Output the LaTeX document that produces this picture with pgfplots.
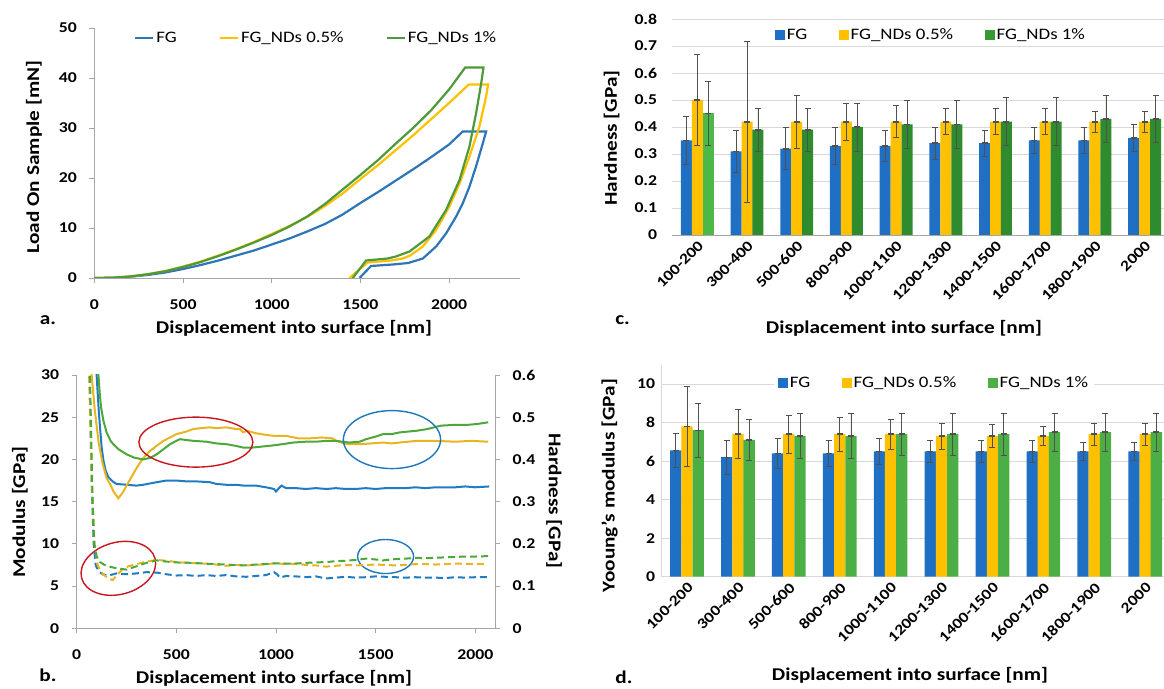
\documentclass[border=0pt]{standalone}
\usepackage{fontspec}
\setmainfont{Carlito}[FakeStretch=1.18]
\usepackage{pgfplots}
\pgfplotsset{compat=1.18}
\usetikzlibrary{arrows.meta}
\definecolor{cblue}{HTML}{1F6FC5}
\definecolor{cyel}{HTML}{FFC000}
\definecolor{cgrn}{HTML}{2E8B2E}
\definecolor{cgrnl}{HTML}{4CB848}
\definecolor{dgrn}{HTML}{4CAF45}
\definecolor{lblue}{HTML}{2E75B6}
\definecolor{lyel}{HTML}{FFC000}
\definecolor{lgrn}{HTML}{4E9A3A}
\definecolor{bblue}{HTML}{1F7BC2}
\definecolor{byel}{HTML}{E8B422}
\definecolor{bgrn}{HTML}{4DA83A}
\definecolor{axgray}{HTML}{A6A6A6}
\definecolor{gridc}{HTML}{D9D9D9}
\definecolor{ebar}{HTML}{505050}
\definecolor{ered}{HTML}{C8161D}
\definecolor{eblue}{HTML}{1F77B8}
\newcommand\tkf{\bfseries\fontsize{15}{15}\selectfont}
\newcommand\lbf{\bfseries\fontsize{18}{18}\selectfont}
\newcommand\lgf{\fontsize{16}{16}\selectfont}
\pgfplotsset{
  base/.style={scale only axis, anchor=south west,
    /pgf/number format/assume math mode=true,
    /pgf/number format/set thousands separator={},
    tick label style={font=\tkf, text=black},
    axis line style={axgray, line width=0.8pt},
    major tick length=5pt, tick style={axgray, line width=0.8pt}},
  lineax/.style={base, axis x line*=bottom, axis y line*=left, tick align=outside,
    xticklabel style={yshift=-13pt}, yticklabel style={xshift=-9pt}},
  barax/.style={base, axis x line*=bottom, axis y line*=left,
    ymajorgrids, grid style={gridc, line width=0.8pt},
    xtick={0,...,9},
    xticklabels={100-200,300-400,500-600,800-900,1000-1100,1200-1300,1400-1500,1600-1700,1800-1900,2000},
    xticklabel style={xshift=6pt, yshift=-6pt, rotate=45, anchor=east},
    xtick style={draw=none}, ytick style={draw=none},
    legend columns=3,
    legend style={draw=none, fill=white, font=\lgf, inner xsep=4pt, inner ysep=3pt,
      /tikz/every even column/.style={column sep=30pt}}},
  ebars/.style={error bars/.cd, y dir=both, y explicit, error mark=none,
    error bar style={draw=ebar, line width=0.7pt,
      {Bar[width=6pt,line width=0.7pt]}-{Bar[width=6pt,line width=0.7pt]}}},
}
\begin{document}
\begin{tikzpicture}[x=1pt,y=1pt]
\useasboundingbox (0,0) rectangle (1164,688);
%================ panel a
\begin{axis}[lineax, at={(94.4pt,410pt)}, width=425.6pt, height=250pt,
  xmin=0, xmax=2400, ymin=0, ymax=50,
  xtick={0,500,1000,1500,2000}, ytick={0,10,20,30,40,50},
  legend columns=3,
  legend style={at={(0.093,0.961)}, anchor=west, draw=none, fill=none, font=\lgf,
    inner sep=0pt, /tikz/every even column/.style={column sep=40pt}},
  legend image code/.code={\draw[#1] (0pt,0pt) -- (18pt,0pt);}]
\addplot[lblue, line width=2.2pt] coordinates {
(0,0) (100,0.05) (200,0.25) (300,0.6) (400,1.1) (500,1.8) (600,2.6) (700,3.5) (800,4.5) (900,5.5)
(1000,6.7) (1100,7.9) (1200,9.3) (1300,10.8) (1400,12.7) (1500,15.0) (1600,17.2) (1700,19.5)
(1800,21.8) (1900,24.2) (2000,26.7) (2077,29.3) (2209,29.3) (2190,26.9) (2152,22.3) (2115,18.3)
(2077,14.9) (2040,12.3) (1983,8.9) (1927,6.3) (1852,3.9) (1770,3.0) (1683,2.7) (1560,2.4) (1495,0)};
\addlegendentry{FG}
\addplot[lyel, line width=2.2pt] coordinates {
(0,0) (100,0.05) (200,0.3) (300,0.75) (400,1.4) (500,2.3) (600,3.3) (700,4.5) (800,5.8) (900,7.2)
(1000,8.8) (1100,10.4) (1200,12.2) (1300,14.4) (1400,16.9) (1500,19.8) (1600,22.6) (1700,25.6)
(1800,28.6) (1900,31.8) (2000,35.0) (2111,38.7) (2220,38.7) (2209,36.3) (2171,30.3) (2115,24.3)
(2059,18.9) (2002,14.3) (1927,9.6) (1852,6.3) (1780,4.5) (1739,3.9) (1673,3.5) (1541,3.1) (1438,0)};
\addlegendentry{FG\_NDs 0.5\%}
\addplot[lgrn, line width=2.2pt] coordinates {
(0,0) (100,0.05) (200,0.3) (300,0.75) (400,1.35) (500,2.2) (600,3.2) (700,4.4) (800,5.7) (900,7.1)
(1000,8.6) (1100,10.3) (1200,12.3) (1300,14.8) (1400,17.7) (1500,20.6) (1600,23.6) (1700,26.9)
(1800,30.1) (1900,33.6) (2000,37.7) (2091,42.1) (2194,42.1) (2181,38.9) (2152,32.9) (2115,26.3)
(2059,19.6) (1983,13.6) (1889,8.3) (1777,5.3) (1700,4.3) (1654,3.9) (1532,3.5) (1457,0)};
\addlegendentry{FG\_NDs 1\%}
\end{axis}
%================ panel b (modulus, left)
\begin{axis}[lineax, at={(76.7pt,59.7pt)}, width=418.5pt, height=253.3pt,
  xmin=0, xmax=2100, ymin=0, ymax=30,
  xtick={0,500,1000,1500,2000}, ytick={0,5,10,15,20,25,30}]
\addplot[bblue, line width=2pt] coordinates {
(95,32) (100,30) (110,26) (117,23.8) (125,21.5) (134,19.9) (145,18.7) (159,17.9) (180,17.4) (200,17.1)
(250,17.0) (300,16.9) (334,17.0) (400,17.3) (450,17.5) (500,17.5) (550,17.4) (600,17.4) (669,17.3)
(700,17.1) (750,17.0) (800,17.0) (836,16.9) (900,16.9) (950,16.7) (990,16.5) (1000,16.2) (1015,16.6)
(1028,16.9) (1050,16.6) (1100,16.6) (1150,16.5) (1200,16.6) (1254,16.5) (1300,16.6) (1350,16.5)
(1400,16.5) (1450,16.6) (1500,16.5) (1550,16.6) (1600,16.6) (1650,16.6) (1700,16.7) (1750,16.6)
(1800,16.7) (1850,16.7) (1900,16.7) (1950,16.8) (2000,16.7) (2070,16.8)};
\addplot[byel, line width=2pt] coordinates {
(70,32) (75,30) (90,26) (110,22) (130,19.5) (150,17.8) (167,17.1) (185,16.2) (209,15.4) (222,15.8)
(234,16.2) (260,17.3) (301,19.0) (335,20.2) (368,21.0) (400,21.6) (435,22.2) (468,22.6) (500,23.0)
(550,23.3) (585,23.6) (620,23.7) (669,23.8) (700,23.7) (750,23.8) (800,23.6) (819,23.6) (835,23.2)
(853,23.4) (900,23.1) (950,22.9) (987,22.8) (1050,22.8) (1112,22.5) (1171,22.5) (1230,22.6)
(1282,22.5) (1304,22.2) (1340,21.9) (1367,21.8) (1420,21.8) (1480,21.9) (1537,22.0) (1580,21.9)
(1620,22.0) (1707,22.2) (1800,22.2) (1900,22.1) (1980,22.2) (2065,22.1)};
\addplot[bgrn, line width=2pt] coordinates {
(105,32) (109,30) (115,28) (122,26.2) (134,24.6) (150,23.2) (170,22.2) (184,21.8) (210,21.2)
(251,20.6) (290,20.2) (334,20.0) (370,20.2) (401,20.6) (435,21.2) (468,21.8) (500,22.2) (518,22.4)
(550,22.3) (585,22.2) (650,22.1) (700,21.9) (753,21.8) (800,21.6) (836,21.4) (880,21.4) (920,21.5)
(1000,21.7) (1087,22.0) (1150,22.1) (1200,22.1) (1254,22.2) (1300,22.2) (1367,22.0) (1420,22.1)
(1452,22.4) (1500,22.7) (1537,23.0) (1580,23.0) (1620,23.2) (1707,23.4) (1760,23.6) (1827,24.0)
(1900,24.1) (1963,24.1) (2010,24.2) (2065,24.4)};
\draw[ered, line width=1.4pt] (axis cs:598,22.05) ellipse [x radius=57pt, y radius=25pt];
\draw[ered, line width=1.4pt, rotate around={15:(axis cs:209,7.1)}] (axis cs:209,7.1) ellipse [x radius=38pt, y radius=26pt];
\draw[eblue, line width=1.4pt] (axis cs:1582,22.35) ellipse [x radius=48.6pt, y radius=29pt];
\draw[eblue, line width=1.4pt] (axis cs:1550,8.5) ellipse [x radius=28pt, y radius=17pt];
\end{axis}
%================ panel b (hardness, right)
\begin{axis}[base, at={(76.7pt,59.7pt)}, width=418.5pt, height=253.3pt,
  axis x line=none, axis y line*=right, tick align=outside,
  yticklabel style={xshift=9pt},
  xmin=0, xmax=2100, ymin=0, ymax=0.6, ytick={0,0.1,0.2,0.3,0.4,0.5,0.6}]
\addplot[bblue, line width=2pt, dash pattern=on 7pt off 4pt] coordinates {
(62,0.65) (75,0.35) (85,0.2) (95,0.15) (110,0.135) (130,0.128) (160,0.125) (200,0.13) (250,0.128)
(300,0.13) (350,0.133) (400,0.132) (450,0.128) (500,0.125) (550,0.126) (600,0.124) (650,0.126)
(700,0.124) (750,0.126) (800,0.123) (850,0.122) (900,0.124) (950,0.126) (990,0.133) (1005,0.128)
(1020,0.12) (1050,0.124) (1100,0.123) (1150,0.121) (1200,0.123) (1250,0.118) (1300,0.12) (1350,0.122)
(1400,0.12) (1450,0.121) (1500,0.123) (1550,0.122) (1600,0.121) (1650,0.12) (1700,0.121) (1750,0.12)
(1800,0.12) (1850,0.119) (1900,0.121) (1950,0.12) (2000,0.121) (2060,0.121)};
\addplot[byel, line width=2pt, dash pattern=on 7pt off 4pt] coordinates {
(60,0.65) (75,0.35) (90,0.2) (105,0.15) (120,0.135) (140,0.125) (160,0.118) (180,0.114) (200,0.125)
(230,0.14) (260,0.147) (300,0.152) (350,0.158) (400,0.162) (450,0.16) (500,0.157) (550,0.155)
(600,0.154) (650,0.153) (700,0.151) (750,0.148) (800,0.15) (850,0.149) (900,0.15) (950,0.152)
(1000,0.154) (1050,0.152) (1100,0.153) (1150,0.15) (1200,0.149) (1250,0.146) (1300,0.148) (1350,0.15)
(1400,0.149) (1450,0.15) (1500,0.151) (1550,0.15) (1600,0.149) (1650,0.15) (1700,0.152) (1750,0.152)
(1800,0.151) (1850,0.152) (1900,0.153) (1950,0.153) (2000,0.152) (2060,0.152)};
\addplot[bgrn, line width=2pt, dash pattern=on 7pt off 4pt] coordinates {
(64,0.65) (80,0.3) (88,0.2) (100,0.17) (117,0.157) (140,0.15) (167,0.146) (200,0.142) (251,0.139)
(300,0.147) (350,0.155) (400,0.161) (450,0.158) (500,0.156) (585,0.155) (650,0.153) (700,0.152)
(750,0.151) (836,0.149) (900,0.151) (1000,0.154) (1087,0.153) (1150,0.155) (1200,0.156) (1254,0.157)
(1300,0.159) (1350,0.16) (1400,0.162) (1452,0.165) (1500,0.163) (1537,0.161) (1600,0.164) (1650,0.165)
(1707,0.167) (1750,0.166) (1800,0.167) (1850,0.168) (1900,0.169) (1950,0.17) (2000,0.17) (2065,0.171)};
\end{axis}
%================ panel c
\begin{axis}[barax, at={(671.7pt,453pt)}, width=492.3pt, height=216pt,
  xmin=-0.515, xmax=9.39, ymin=0, ymax=0.8,
  ytick={0,0.1,0.2,0.3,0.4,0.5,0.6,0.7,0.8},
  y axis line style={draw=none},
  yticklabel style={xshift=-11pt},
  legend style={at={(0.202,0.927)}, anchor=west}]
\addlegendimage{legend image code/.code={\fill[cblue] (0pt,-4.5pt) rectangle (9pt,4.5pt);}}
\addlegendentry{FG}
\addlegendimage{legend image code/.code={\fill[cyel] (0pt,-4.5pt) rectangle (9pt,4.5pt);}}
\addlegendentry{FG\_NDs 0.5\%}
\addlegendimage{legend image code/.code={\fill[cgrn!70!cgrnl] (0pt,-4.5pt) rectangle (9pt,4.5pt);}}
\addlegendentry{FG\_NDs 1\%}
\addplot[ybar, bar width=11pt, bar shift=0pt, fill=cblue, draw=none, ebars] coordinates {
(-0.22,0.35) +- (0,0.09) (0.78,0.31) +- (0,0.08) (1.78,0.32) +- (0,0.08) (2.78,0.33) +- (0,0.07) (3.78,0.33) +- (0,0.06)
(4.78,0.34) +- (0,0.06) (5.78,0.34) +- (0,0.05) (6.78,0.35) +- (0,0.05) (7.78,0.35) +- (0,0.05) (8.78,0.36) +- (0,0.05)};
\addplot[ybar, bar width=11pt, bar shift=0pt, fill=cyel, draw=none, ebars] coordinates {
(0,0.50) +- (0,0.17) (1,0.42) +- (0,0.30) (2,0.42) +- (0,0.10) (3,0.42) +- (0,0.07) (4,0.42) +- (0,0.06)
(5,0.42) +- (0,0.05) (6,0.42) +- (0,0.05) (7,0.42) +- (0,0.05) (8,0.42) +- (0,0.04) (9,0.42) +- (0,0.04)};
\addplot[ybar, bar width=11pt, bar shift=0pt, fill=cgrnl, draw=none, ebars] coordinates {
(0.22,0.45) +- (0,0.12)};
\addplot[ybar, bar width=11pt, bar shift=0pt, fill=cgrn, draw=none, ebars] coordinates {
(1.22,0.39) +- (0,0.08) (2.22,0.39) +- (0,0.08) (3.22,0.40) +- (0,0.09) (4.22,0.41) +- (0,0.09)
(5.22,0.41) +- (0,0.09) (6.22,0.42) +- (0,0.09) (7.22,0.42) +- (0,0.09) (8.22,0.43) +- (0,0.09) (9.22,0.43) +- (0,0.09)};
\end{axis}
%================ panel d
\begin{axis}[barax, at={(661.7pt,111.3pt)}, width=502.3pt, height=212pt,
  xmin=-0.497, xmax=9.37, ymin=0, ymax=11,
  ytick={0,2,4,6,8,10},
  axis line style={gridc, line width=1pt},
  yticklabel style={xshift=-3pt},
  legend style={at={(0.224,0.914)}, anchor=west}]
\addlegendimage{legend image code/.code={\fill[cblue] (0pt,-4.5pt) rectangle (9pt,4.5pt);}}
\addlegendentry{FG}
\addlegendimage{legend image code/.code={\fill[cyel] (0pt,-4.5pt) rectangle (9pt,4.5pt);}}
\addlegendentry{FG\_NDs 0.5\%}
\addlegendimage{legend image code/.code={\fill[dgrn] (0pt,-4.5pt) rectangle (9pt,4.5pt);}}
\addlegendentry{FG\_NDs 1\%}
\addplot[ybar, bar width=11.3pt, bar shift=0pt, fill=cblue, draw=none, ebars] coordinates {
(-0.22,6.55) +- (0,0.9) (0.78,6.2) +- (0,0.9) (1.78,6.4) +- (0,0.8) (2.78,6.4) +- (0,0.7) (3.78,6.5) +- (0,0.7)
(4.78,6.5) +- (0,0.6) (5.78,6.5) +- (0,0.6) (6.78,6.5) +- (0,0.6) (7.78,6.5) +- (0,0.5) (8.78,6.5) +- (0,0.5)};
\addplot[ybar, bar width=11.3pt, bar shift=0pt, fill=cyel, draw=none, ebars] coordinates {
(0,7.8) +- (0,2.1) (1,7.4) +- (0,1.3) (2,7.4) +- (0,1.0) (3,7.4) +- (0,0.9) (4,7.4) +- (0,0.8)
(5,7.3) +- (0,0.7) (6,7.3) +- (0,0.6) (7,7.3) +- (0,0.5) (8,7.4) +- (0,0.6) (9,7.4) +- (0,0.6)};
\addplot[ybar, bar width=11.3pt, bar shift=0pt, fill=dgrn, draw=none, ebars] coordinates {
(0.22,7.6) +- (0,1.4) (1.22,7.1) +- (0,1.1) (2.22,7.3) +- (0,1.2) (3.22,7.3) +- (0,1.2) (4.22,7.4) +- (0,1.1)
(5.22,7.4) +- (0,1.1) (6.22,7.4) +- (0,1.1) (7.22,7.5) +- (0,1.0) (8.22,7.5) +- (0,1.0) (9.22,7.5) +- (0,1.0)};
\end{axis}
%================ labels
\node[rotate=90, font=\lbf] at (34,531) {Load On Sample [mN]};
\node[font=\lbf] at (294,360) {Displacement into surface [nm]};
\node[font=\lbf] at (48,368) {a.};
\node[rotate=90, font=\lbf] at (20,176) {Modulus [GPa]};
\node[rotate=-90, font=\lbf] at (554,187) {Hardness [GPa]};
\node[font=\lbf] at (274,10) {Displacement into surface [nm]};
\node[font=\lbf] at (48,13) {b.};
\node[rotate=90, font=\lbf] at (611.5,550) {Hardness [GPa]};
\node[font=\lbf] at (904,360) {Displacement into surface [nm]};
\node[font=\lbf] at (622.6,368) {c.};
\node[rotate=90, font=\lbf] at (609.6,202.5) {Yooung's modulus [GPa]};
\node[font=\lbf] at (910,13) {Displacement into surface [nm]};
\node[font=\lbf] at (624,11) {d.};
\end{tikzpicture}
\end{document}
